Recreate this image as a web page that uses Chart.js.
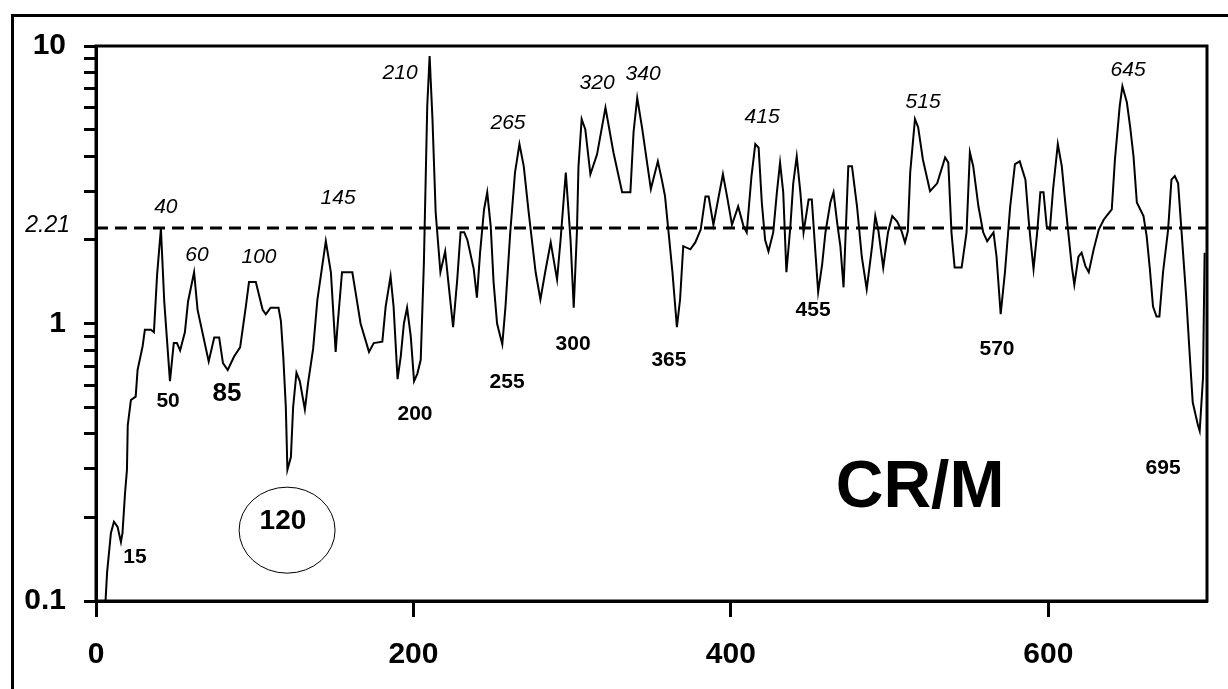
<!DOCTYPE html>
<html>
<head>
<meta charset="utf-8">
<script src="https://cdn.jsdelivr.net/npm/chart.js@4"></script>
<style>
  html, body { margin: 0; padding: 0; background: #fff; }
  #wrap { width: 1228px; height: 689px; position: relative; }
</style>
</head>
<body>
<div id="wrap"><canvas id="crChart"></canvas></div>
<script>
// position along the profile (x) and CR/M ratio (y, log scale)
const positions = [
  6, 7, 9.4, 11.3, 13.6, 15.7, 16.7, 18.3, 19.5, 20,
  22, 25, 26.2, 29.4, 30.8, 34.6, 36.5, 38.5, 40.9, 43,
  46.6, 49, 51, 53, 56, 58, 61.8, 64, 71, 74.5,
  77.6, 80, 83, 87, 90.8, 94.4, 96.4, 100.7, 105, 107,
  110, 115, 116.5, 118, 119.6, 120.6, 122.8, 124.2, 126.3, 128.4,
  131.6, 133.6, 136.8, 139.5, 144.8, 148, 151, 152, 155, 161.5,
  163.6, 166.7, 172, 175, 180.4, 182.5, 185.6, 187.5, 190, 192,
  194, 196, 198.3, 200.4, 202.5, 204.6, 206.6, 208.7, 210.2, 212,
  214, 217, 220, 222, 225, 227.6, 229.7, 232, 234, 238,
  240, 242, 244.5, 246.5, 248.7, 250.5, 252.7, 256, 258, 261,
  264, 266.8, 269.5, 272.6, 277, 280, 283, 286.5, 290.5, 292.7,
  296, 299, 301, 303, 304, 306, 308.3, 311.5, 315.7, 321,
  326, 331.5, 336.7, 338.7, 341, 344, 349.6, 354, 356.5, 358.5,
  361, 363.2, 366, 368, 370, 374.5, 377.6, 381, 384, 386,
  389, 392, 395, 397.6, 400.7, 404.6, 408, 410, 413, 415.4,
  417.5, 419.5, 421.6, 423.7, 426.7, 429, 431, 433, 435, 437.5,
  439.3, 441.5, 443.8, 445.8, 449, 451, 453, 455, 457.5, 459.6,
  462.7, 464.7, 467, 469, 471, 474, 476.3, 479.5, 482.5, 485.6,
  489, 491, 493, 496, 499, 501.7, 504.8, 507.6, 509.7, 511.5,
  513, 516, 518, 521, 525.5, 530, 535, 537, 539, 541,
  545.4, 548.5, 550.6, 552.7, 556, 559, 561.5, 565.5, 567.4, 570,
  572.7, 576, 579, 582, 585.6, 587.6, 588.8, 590.7, 593, 595,
  597, 599, 601, 603, 606, 608.5, 610.5, 612.6, 614.8, 616.4,
  619, 621, 623.4, 625.5, 628.6, 631.8, 635, 640, 642, 645,
  646.7, 649.5, 651.6, 653.7, 655.8, 660, 662, 664, 666, 668.2,
  670, 672.3, 675.5, 677.6, 679.7, 681.8, 684, 687, 689, 691,
  694.3, 695.4, 697.5, 698.5
];
const ratios = [
  0.1, 0.127, 0.176, 0.193, 0.185, 0.163, 0.176, 0.245, 0.297, 0.43,
  0.53, 0.545, 0.68, 0.83, 0.95, 0.95, 0.93, 1.5, 2.2, 1.2,
  0.62, 0.85, 0.85, 0.8, 0.93, 1.2, 1.53, 1.12, 0.73, 0.89,
  0.89, 0.72, 0.68, 0.76, 0.82, 1.15, 1.41, 1.41, 1.12, 1.08,
  1.14, 1.14, 1.02, 0.76, 0.5, 0.297, 0.33, 0.5, 0.665, 0.62,
  0.49, 0.61, 0.81, 1.22, 1.98, 1.53, 0.79, 0.95, 1.53, 1.53,
  1.29, 1.0, 0.79, 0.85, 0.86, 1.15, 1.48, 1.15, 0.63, 0.76,
  1.0, 1.14, 0.9, 0.62, 0.66, 0.74, 1.66, 6.07, 9.2, 5.45,
  2.52, 1.53, 1.82, 1.41, 0.97, 1.44, 2.13, 2.13, 2.0, 1.57,
  1.24, 1.8, 2.58, 2.97, 2.24, 1.41, 1.0, 0.84, 1.15, 2.13,
  3.5, 4.43, 3.69, 2.52, 1.53, 1.22, 1.53, 1.96, 1.44, 2.0,
  3.5, 2.0, 1.14, 2.13, 3.69, 5.45, 5.0, 3.45, 4.07, 6.0,
  4.14, 2.97, 2.97, 4.9, 6.5, 5.1, 3.05, 3.84, 3.3, 2.88,
  2.06, 1.53, 0.97, 1.22, 1.9, 1.85, 1.96, 2.18, 2.87, 2.87,
  2.27, 2.8, 3.45, 2.87, 2.27, 2.64, 2.24, 2.13, 3.4, 4.43,
  4.3, 2.73, 2.0, 1.82, 2.13, 2.97, 3.8, 2.97, 1.53, 2.24,
  3.2, 4.0, 2.97, 2.13, 2.8, 2.8, 1.9, 1.3, 1.63, 2.13,
  2.73, 2.97, 2.3, 1.9, 1.35, 3.69, 3.69, 2.64, 1.74, 1.33,
  1.9, 2.44, 2.15, 1.59, 2.13, 2.44, 2.33, 2.15, 1.96, 2.15,
  3.5, 5.45, 5.1, 3.9, 3.0, 3.2, 3.97, 3.8, 2.13, 1.59,
  1.59, 2.13, 4.14, 3.69, 2.64, 2.13, 1.98, 2.13, 1.74, 1.08,
  1.53, 2.64, 3.75, 3.84, 3.3, 2.37, 2.0, 1.57, 2.13, 2.97,
  2.97, 2.24, 2.18, 3.04, 4.43, 3.69, 2.8, 2.13, 1.61, 1.38,
  1.74, 1.8, 1.61, 1.53, 1.85, 2.18, 2.37, 2.58, 3.9, 6.07,
  7.16, 6.27, 5.1, 4.0, 2.73, 2.44, 2.06, 1.57, 1.15, 1.06,
  1.06, 1.53, 2.18, 3.3, 3.4, 3.2, 2.13, 1.22, 0.79, 0.52,
  0.43, 0.41, 0.64, 1.8
];
const threshold = 2.21;
const xRange = [0, 700];
const xTicks = [0, 200, 400, 600];
const yTicks = [0.1, 0.2, 0.3, 0.4, 0.5, 0.6, 0.7, 0.8, 0.9, 1, 2, 3, 4, 5, 6, 7, 8, 9, 10];
const yLabelled = [0.1, 1, 10];

// peak / trough numbers written on the chart (data coords)
const notes = [
  { text: '40', x: 44, y: 2.63, kind: 'peak' },
  { text: '60', x: 63.6, y: 1.77, kind: 'peak' },
  { text: '100', x: 102.7, y: 1.74, kind: 'peak' },
  { text: '145', x: 152.5, y: 2.83, kind: 'peak' },
  { text: '210', x: 191.6, y: 7.99, kind: 'peak' },
  { text: '265', x: 259.6, y: 5.28, kind: 'peak' },
  { text: '320', x: 315.7, y: 7.36, kind: 'peak' },
  { text: '340', x: 344.7, y: 7.93, kind: 'peak' },
  { text: '415', x: 419.7, y: 5.55, kind: 'peak' },
  { text: '515', x: 521.1, y: 6.28, kind: 'peak' },
  { text: '645', x: 650.3, y: 8.2, kind: 'peak' },
  { text: '15', x: 24.6, y: 0.144, kind: 'trough' },
  { text: '50', x: 45.4, y: 0.526, kind: 'trough' },
  { text: '85', x: 82.5, y: 0.557, kind: 'troughBig' },
  { text: '120', x: 117.8, y: 0.193, kind: 'circled' },
  { text: '200', x: 201, y: 0.472, kind: 'trough' },
  { text: '255', x: 259, y: 0.615, kind: 'trough' },
  { text: '300', x: 300.6, y: 0.844, kind: 'trough' },
  { text: '365', x: 361, y: 0.739, kind: 'trough' },
  { text: '455', x: 451.8, y: 1.12, kind: 'trough' },
  { text: '570', x: 567.7, y: 0.81, kind: 'trough' },
  { text: '695', x: 672.3, y: 0.301, kind: 'trough' },
  { text: 'CR/M', x: 519.2, y: 0.253, kind: 'title' }
];
const circleAt = { x: 120.4, y: 0.18 };

const FONT = '"Liberation Sans", Arial, sans-serif';
const noteFont = {
  peak: 'italic 21px ' + FONT,
  trough: 'bold 21px ' + FONT,
  troughBig: 'bold 26px ' + FONT,
  circled: 'bold 28px ' + FONT,
  title: 'bold 66px ' + FONT
};

const decorations = {
  id: 'decorations',
  beforeDraw(chart) {
    const c = chart.ctx;
    c.save();
    c.fillStyle = '#fff';
    c.fillRect(0, 0, chart.width, chart.height);
    // outer frame (left + top)
    c.fillStyle = '#000';
    c.fillRect(11, 14, 3, chart.height - 14);
    c.fillRect(11, 14, chart.width - 11, 3);
    c.restore();
  },
  afterDraw(chart) {
    const c = chart.ctx;
    const xs = chart.scales.x, ys = chart.scales.y;
    const a = chart.chartArea;
    c.save();
    // plot box
    c.strokeStyle = '#000';
    c.lineWidth = 3;
    c.strokeRect(a.left, a.top, a.right - a.left, a.bottom - a.top);

    c.fillStyle = '#000';
    c.textAlign = 'center';
    c.textBaseline = 'middle';
    notes.forEach(n => {
      c.font = noteFont[n.kind];
      c.fillText(n.text, xs.getPixelForValue(n.x), ys.getPixelForValue(n.y));
    });

    c.lineWidth = 1;
    c.beginPath();
    c.ellipse(xs.getPixelForValue(circleAt.x), ys.getPixelForValue(circleAt.y), 48, 43, 0, 0, Math.PI * 2);
    c.stroke();

    // threshold value written left of the axis
    c.font = 'italic 23px ' + FONT;
    c.textAlign = 'right';
    c.fillText(String(threshold), 70, ys.getPixelForValue(threshold) - 2);
    c.restore();
  }
};

document.addEventListener('DOMContentLoaded', function () {
  const ctx = document.getElementById('crChart').getContext('2d');
  new Chart(ctx, {
    type: 'line',
    data: {
      datasets: [{
        label: 'CR/M',
        data: positions.map((x, i) => ({ x: x, y: ratios[i] })),
        borderColor: '#000',
        borderWidth: 2,
        pointRadius: 0,
        tension: 0,
        fill: false
      }, {
        label: 'threshold',
        data: [{ x: xRange[0], y: threshold }, { x: xRange[1], y: threshold }],
        borderColor: '#000',
        borderWidth: 3,
        borderDash: [12, 7],
        pointRadius: 0,
        fill: false
      }]
    },
    options: {
      responsive: true,
      maintainAspectRatio: false,
      animation: false,
      events: [],
      layout: { padding: { top: 46, right: 21, left: 0, bottom: 0 } },
      plugins: {
        legend: { display: false },
        tooltip: { enabled: false }
      },
      scales: {
        x: {
          type: 'linear',
          min: xRange[0],
          max: xRange[1],
          afterBuildTicks: s => { s.ticks = xTicks.map(v => ({ value: v })); },
          afterFit: s => { s.height = 88; },
          grid: { drawOnChartArea: false, drawTicks: true, tickLength: 16, tickWidth: 3, tickColor: '#000' },
          border: { display: true, color: '#000', width: 3 },
          ticks: { color: '#000', font: { family: FONT, size: 30, weight: 'bold' }, padding: 20, maxRotation: 0, autoSkip: false }
        },
        y: {
          type: 'logarithmic',
          min: 0.1,
          max: 10,
          afterBuildTicks: s => { s.ticks = yTicks.map(v => ({ value: v })); },
          afterFit: s => { s.width = 96; },
          grid: { drawOnChartArea: false, drawTicks: true, tickLength: 12, tickWidth: 3, tickColor: '#000' },
          border: { display: true, color: '#000', width: 3 },
          ticks: {
            color: '#000',
            font: { family: FONT, size: 30, weight: 'bold' },
            padding: 18,
            autoSkip: false,
            callback: v => yLabelled.includes(v) ? String(v) : ''
          }
        }
      }
    },
    plugins: [decorations]
  });
});
</script>
</body>
</html>
